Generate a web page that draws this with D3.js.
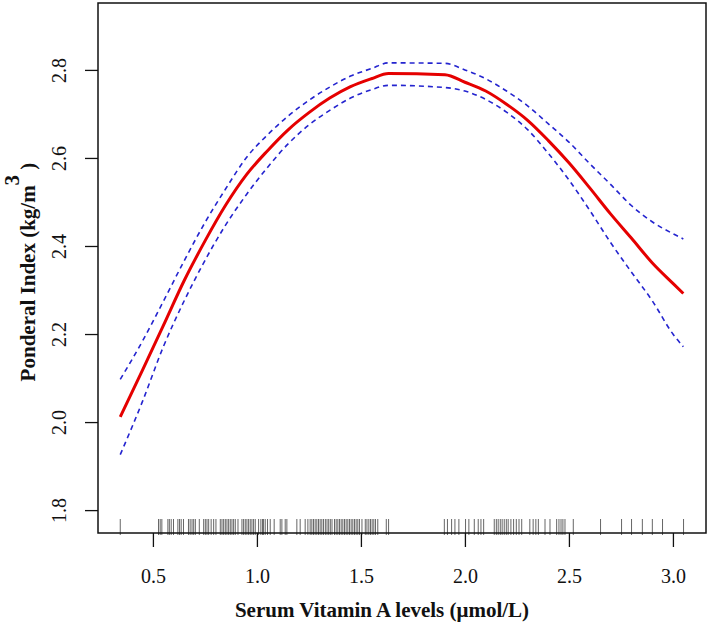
<!DOCTYPE html>
<html>
<head>
<meta charset="utf-8">
<script src="https://cdn.jsdelivr.net/npm/d3@7"></script>
<style>
  body { margin: 0; background: #fff; }
  svg { display: block; }
</style>
</head>
<body>
<div id="chart"></div>
<script>
// x positions where the fitted curve was read
const xVals = [0.343, 0.45, 0.55, 0.65, 0.75, 0.85, 0.95, 1.05, 1.15, 1.25, 1.35, 1.45, 1.55, 1.633,
  1.904, 2.0, 2.1, 2.2, 2.3, 2.4, 2.5, 2.6, 2.7, 2.8, 2.9, 3.0, 3.05]

// fitted Ponderal Index
const fitVals = [2.012, 2.118, 2.219, 2.321, 2.411, 2.493, 2.562, 2.616, 2.664, 2.703, 2.736, 2.762, 2.780, 2.792,
  2.789, 2.772, 2.752, 2.722, 2.686, 2.640, 2.589, 2.532, 2.473, 2.418, 2.362, 2.315, 2.292]

// 95% CI bounds
const upperVals = [2.097, 2.184, 2.274, 2.366, 2.453, 2.530, 2.601, 2.652, 2.695, 2.731, 2.761, 2.786, 2.803, 2.816,
  2.815, 2.800, 2.780, 2.752, 2.719, 2.678, 2.636, 2.587, 2.540, 2.492, 2.455, 2.428, 2.416]
const lowerVals = [1.926, 2.047, 2.171, 2.275, 2.367, 2.448, 2.517, 2.578, 2.632, 2.675, 2.708, 2.736, 2.755, 2.765,
  2.760, 2.752, 2.733, 2.704, 2.665, 2.611, 2.550, 2.481, 2.408, 2.341, 2.276, 2.200, 2.171]

// observed serum vitamin A values (rug)
const rugVals = [0.343, 0.527, 0.535, 0.543, 0.572, 0.579, 0.588, 0.599, 0.620, 0.628, 0.636, 0.647, 0.671, 0.679,
  0.688, 0.696, 0.704, 0.723, 0.744, 0.752, 0.760, 0.768, 0.780, 0.792, 0.803, 0.824, 0.832, 0.840, 0.848, 0.856,
  0.864, 0.872, 0.880, 0.888, 0.896, 0.909, 0.928, 0.936, 0.944, 0.952, 0.960, 0.968, 0.976, 0.984, 0.992, 1.008,
  1.019, 1.027, 1.032, 1.040, 1.051, 1.064, 1.083, 1.112, 1.120, 1.136, 1.144, 1.192, 1.208, 1.232, 1.245, 1.256,
  1.264, 1.272, 1.280, 1.288, 1.296, 1.304, 1.312, 1.320, 1.329, 1.337, 1.345, 1.353, 1.361, 1.373, 1.381, 1.389,
  1.397, 1.405, 1.413, 1.421, 1.429, 1.437, 1.445, 1.453, 1.461, 1.469, 1.477, 1.485, 1.493, 1.505, 1.521, 1.529,
  1.538, 1.546, 1.554, 1.562, 1.570, 1.581, 1.622, 1.633, 1.901, 1.916, 1.936, 1.952, 1.971, 2.003, 2.019, 2.045,
  2.064, 2.077, 2.090, 2.141, 2.151, 2.160, 2.170, 2.179, 2.189, 2.199, 2.208, 2.221, 2.234, 2.247, 2.260, 2.273,
  2.312, 2.328, 2.341, 2.353, 2.385, 2.409, 2.441, 2.452, 2.462, 2.471, 2.481, 2.521, 2.652, 2.753, 2.801, 2.853,
  2.901, 2.950, 3.051]

const xTicks = [0.5, 1.0, 1.5, 2.0, 2.5, 3.0]
const yTicks = [1.8, 2.0, 2.2, 2.4, 2.6, 2.8]

const width = 709
const height = 630
const margin = { top: 3, right: 3, bottom: 97, left: 98 }
const serif = "'Liberation Serif', 'Times New Roman', serif"

const svg = d3.select('#chart').append('svg')
  .attr('width', width)
  .attr('height', height)

const x = d3.scaleLinear()
  .domain([0.236, 3.159])
  .range([margin.left, width - margin.right])

const y = d3.scaleLinear()
  .domain([1.748, 2.952])
  .range([height - margin.bottom, margin.top])

const bottom = height - margin.bottom

// rug along the bottom
svg.append('g')
  .selectAll('line')
  .data(rugVals)
  .join('line')
  .attr('x1', d => x(d))
  .attr('x2', d => x(d))
  .attr('y1', bottom + 2)
  .attr('y2', bottom - 14)
  .attr('stroke', '#555')
  .attr('stroke-width', 0.9)

// curves
const pts = arr => xVals.map((d, i) => [d, arr[i]])
const line = d3.line()
  .x(d => x(d[0]))
  .y(d => y(d[1]))
  .curve(d3.curveMonotoneX)

for (const band of [upperVals, lowerVals]) {
  svg.append('path')
    .datum(pts(band))
    .attr('d', line)
    .attr('fill', 'none')
    .attr('stroke', '#2424cf')
    .attr('stroke-width', 1.6)
    .attr('stroke-dasharray', '5,4')
}

svg.append('path')
  .datum(pts(fitVals))
  .attr('d', line)
  .attr('fill', 'none')
  .attr('stroke', '#e50000')
  .attr('stroke-width', 3)
  .attr('stroke-linejoin', 'round')

// axes
const xAxis = svg.append('g')
  .attr('transform', `translate(0,${bottom})`)
  .call(d3.axisBottom(x).tickValues(xTicks).tickFormat(d3.format('.1f')).tickSize(14).tickSizeOuter(0))
xAxis.select('.domain').remove()
xAxis.selectAll('line').attr('stroke', '#111').attr('stroke-width', 1.3)
xAxis.selectAll('text')
  .attr('y', 50)
  .attr('dy', null)
  .attr('fill', '#111')
  .style('font-family', serif)
  .style('font-size', '20px')

const yAxis = svg.append('g')
  .attr('transform', `translate(${margin.left},0)`)
  .call(d3.axisLeft(y).tickValues(yTicks).tickFormat(d3.format('.1f')).tickSize(13).tickSizeOuter(0))
yAxis.select('.domain').remove()
yAxis.selectAll('line').attr('stroke', '#111').attr('stroke-width', 1.3)
yAxis.selectAll('text')
  .attr('x', null)
  .attr('dy', null)
  .attr('transform', 'translate(-32,0) rotate(-90)')
  .attr('text-anchor', 'middle')
  .attr('fill', '#111')
  .style('font-family', serif)
  .style('font-size', '20px')

// plot frame
svg.append('rect')
  .attr('x', margin.left)
  .attr('y', margin.top)
  .attr('width', width - margin.left - margin.right)
  .attr('height', height - margin.top - margin.bottom)
  .attr('fill', 'none')
  .attr('stroke', '#111')
  .attr('stroke-width', 1.5)

// axis titles
svg.append('text')
  .attr('x', 382)
  .attr('y', 617)
  .attr('text-anchor', 'middle')
  .style('font-family', serif)
  .style('font-size', '21px')
  .style('font-weight', 'bold')
  .attr('fill', '#111')
  .text('Serum Vitamin A levels (μmol/L)')

const yTitle = svg.append('text')
  .attr('transform', 'translate(35,272) rotate(-90)')
  .attr('text-anchor', 'middle')
  .style('font-family', serif)
  .style('font-size', '21px')
  .style('font-weight', 'bold')
  .attr('fill', '#111')
yTitle.append('tspan').text('Ponderal Index (kg/m')
yTitle.append('tspan').attr('dy', -16).text('3')
yTitle.append('tspan').attr('dy', 16).text(' )')
</script>
</body>
</html>
